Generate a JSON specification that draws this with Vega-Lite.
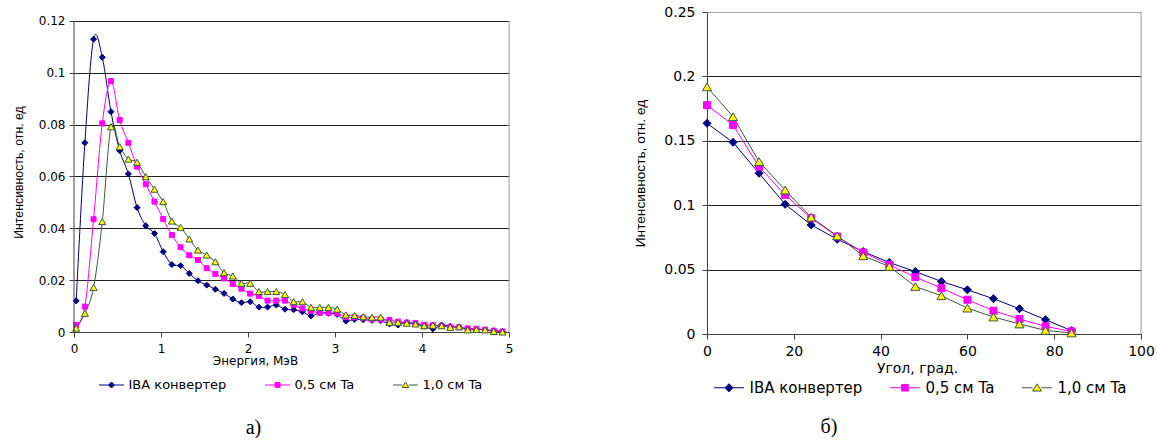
{
  "$schema": "https://vega.github.io/schema/vega-lite/v6.json",
  "background": "white",
  "padding": {"left": 12, "top": 5, "right": 0, "bottom": 0},
  "bounds": "flush",
  "spacing": 198,
  "config": {
    "view": {"stroke": null},
    "font": "DejaVu Sans",
    "axis": {"labelColor": "black", "titleColor": "black", "titleFontWeight": "normal", "labelFlush": false, "tickColor": "#404040", "domainColor": "#404040", "tickSize": 5, "labelOverlap": false}
  },
  "datasets": {
    "energy": [
      {"s":"IBA конвертер","x":0.025,"y":0.012},{"s":"IBA конвертер","x":0.125,"y":0.073},{"s":"IBA конвертер","x":0.225,"y":0.113},{"s":"IBA конвертер","x":0.325,"y":0.106},{"s":"IBA конвертер","x":0.425,"y":0.085},
      {"s":"IBA конвертер","x":0.525,"y":0.070},{"s":"IBA конвертер","x":0.625,"y":0.061},{"s":"IBA конвертер","x":0.725,"y":0.048},{"s":"IBA конвертер","x":0.825,"y":0.041},{"s":"IBA конвертер","x":0.925,"y":0.038},
      {"s":"IBA конвертер","x":1.025,"y":0.031},{"s":"IBA конвертер","x":1.125,"y":0.026},{"s":"IBA конвертер","x":1.225,"y":0.0256},{"s":"IBA конвертер","x":1.325,"y":0.0226},{"s":"IBA конвертер","x":1.425,"y":0.0198},
      {"s":"IBA конвертер","x":1.525,"y":0.0181},{"s":"IBA конвертер","x":1.625,"y":0.0165},{"s":"IBA конвертер","x":1.725,"y":0.0149},{"s":"IBA конвертер","x":1.825,"y":0.0127},{"s":"IBA конвертер","x":1.925,"y":0.0113},
      {"s":"IBA конвертер","x":2.025,"y":0.0117},{"s":"IBA конвертер","x":2.125,"y":0.0096},{"s":"IBA конвертер","x":2.225,"y":0.0096},{"s":"IBA конвертер","x":2.325,"y":0.0104},{"s":"IBA конвертер","x":2.425,"y":0.0088},
      {"s":"IBA конвертер","x":2.525,"y":0.0086},{"s":"IBA конвертер","x":2.625,"y":0.0078},{"s":"IBA конвертер","x":2.725,"y":0.0062},{"s":"IBA конвертер","x":2.825,"y":0.0075},{"s":"IBA конвертер","x":2.925,"y":0.0072},
      {"s":"IBA конвертер","x":3.025,"y":0.0068},{"s":"IBA конвертер","x":3.125,"y":0.0042},{"s":"IBA конвертер","x":3.225,"y":0.0049},{"s":"IBA конвертер","x":3.325,"y":0.0047},{"s":"IBA конвертер","x":3.425,"y":0.0045},
      {"s":"IBA конвертер","x":3.525,"y":0.0044},{"s":"IBA конвертер","x":3.625,"y":0.0031},{"s":"IBA конвертер","x":3.725,"y":0.0027},{"s":"IBA конвертер","x":3.825,"y":0.0037},{"s":"IBA конвертер","x":3.925,"y":0.0031},
      {"s":"IBA конвертер","x":4.025,"y":0.0022},{"s":"IBA конвертер","x":4.125,"y":0.0012},{"s":"IBA конвертер","x":4.225,"y":0.0027},{"s":"IBA конвертер","x":4.325,"y":0.0022},{"s":"IBA конвертер","x":4.425,"y":0.0019},
      {"s":"IBA конвертер","x":4.525,"y":0.0012},{"s":"IBA конвертер","x":4.625,"y":0.0011},{"s":"IBA конвертер","x":4.725,"y":0.0008},{"s":"IBA конвертер","x":4.825,"y":0.0005},{"s":"IBA конвертер","x":4.925,"y":0.0002},
      {"s":"0,5 см Ta","x":0.025,"y":0.0027},{"s":"0,5 см Ta","x":0.125,"y":0.0098},{"s":"0,5 см Ta","x":0.225,"y":0.0435},{"s":"0,5 см Ta","x":0.325,"y":0.0805},{"s":"0,5 см Ta","x":0.425,"y":0.0968},
      {"s":"0,5 см Ta","x":0.525,"y":0.0818},{"s":"0,5 см Ta","x":0.625,"y":0.0730},{"s":"0,5 см Ta","x":0.725,"y":0.0638},{"s":"0,5 см Ta","x":0.825,"y":0.0570},{"s":"0,5 см Ta","x":0.925,"y":0.0503},
      {"s":"0,5 см Ta","x":1.025,"y":0.0436},{"s":"0,5 см Ta","x":1.125,"y":0.0374},{"s":"0,5 см Ta","x":1.225,"y":0.0327},{"s":"0,5 см Ta","x":1.325,"y":0.0296},{"s":"0,5 см Ta","x":1.425,"y":0.0278},
      {"s":"0,5 см Ta","x":1.525,"y":0.0246},{"s":"0,5 см Ta","x":1.625,"y":0.0224},{"s":"0,5 см Ta","x":1.725,"y":0.0207},{"s":"0,5 см Ta","x":1.825,"y":0.0185},{"s":"0,5 см Ta","x":1.925,"y":0.0167},
      {"s":"0,5 см Ta","x":2.025,"y":0.0148},{"s":"0,5 см Ta","x":2.125,"y":0.0139},{"s":"0,5 см Ta","x":2.225,"y":0.0121},{"s":"0,5 см Ta","x":2.325,"y":0.0121},{"s":"0,5 см Ta","x":2.425,"y":0.0121},
      {"s":"0,5 см Ta","x":2.525,"y":0.0104},{"s":"0,5 см Ta","x":2.625,"y":0.0091},{"s":"0,5 см Ta","x":2.725,"y":0.0081},{"s":"0,5 см Ta","x":2.825,"y":0.0074},{"s":"0,5 см Ta","x":2.925,"y":0.0074},
      {"s":"0,5 см Ta","x":3.025,"y":0.0072},{"s":"0,5 см Ta","x":3.125,"y":0.0057},{"s":"0,5 см Ta","x":3.225,"y":0.0057},{"s":"0,5 см Ta","x":3.325,"y":0.0055},{"s":"0,5 см Ta","x":3.425,"y":0.0049},
      {"s":"0,5 см Ta","x":3.525,"y":0.0048},{"s":"0,5 см Ta","x":3.625,"y":0.0046},{"s":"0,5 см Ta","x":3.725,"y":0.0040},{"s":"0,5 см Ta","x":3.825,"y":0.0036},{"s":"0,5 см Ta","x":3.925,"y":0.0034},
      {"s":"0,5 см Ta","x":4.025,"y":0.0028},{"s":"0,5 см Ta","x":4.125,"y":0.0026},{"s":"0,5 см Ta","x":4.225,"y":0.0024},{"s":"0,5 см Ta","x":4.325,"y":0.0020},{"s":"0,5 см Ta","x":4.425,"y":0.0018},
      {"s":"0,5 см Ta","x":4.525,"y":0.0014},{"s":"0,5 см Ta","x":4.625,"y":0.0012},{"s":"0,5 см Ta","x":4.725,"y":0.0009},{"s":"0,5 см Ta","x":4.825,"y":0.0005},{"s":"0,5 см Ta","x":4.925,"y":0.0002},
      {"s":"1,0 см Ta","x":0.025,"y":0.0015},{"s":"1,0 см Ta","x":0.125,"y":0.0072},{"s":"1,0 см Ta","x":0.225,"y":0.0172},{"s":"1,0 см Ta","x":0.325,"y":0.0426},{"s":"1,0 см Ta","x":0.425,"y":0.0792},
      {"s":"1,0 см Ta","x":0.525,"y":0.0715},{"s":"1,0 см Ta","x":0.625,"y":0.0667},{"s":"1,0 см Ta","x":0.725,"y":0.0655},{"s":"1,0 см Ta","x":0.825,"y":0.0599},{"s":"1,0 см Ta","x":0.925,"y":0.0551},
      {"s":"1,0 см Ta","x":1.025,"y":0.0503},{"s":"1,0 см Ta","x":1.125,"y":0.0428},{"s":"1,0 см Ta","x":1.225,"y":0.0404},{"s":"1,0 см Ta","x":1.325,"y":0.0359},{"s":"1,0 см Ta","x":1.425,"y":0.0316},
      {"s":"1,0 см Ta","x":1.525,"y":0.0297},{"s":"1,0 см Ta","x":1.625,"y":0.0271},{"s":"1,0 см Ta","x":1.725,"y":0.0229},{"s":"1,0 см Ta","x":1.825,"y":0.0216},{"s":"1,0 см Ta","x":1.925,"y":0.0188},
      {"s":"1,0 см Ta","x":2.025,"y":0.0188},{"s":"1,0 см Ta","x":2.125,"y":0.0156},{"s":"1,0 см Ta","x":2.225,"y":0.0156},{"s":"1,0 см Ta","x":2.325,"y":0.0156},{"s":"1,0 см Ta","x":2.425,"y":0.0145},
      {"s":"1,0 см Ta","x":2.525,"y":0.0117},{"s":"1,0 см Ta","x":2.625,"y":0.0117},{"s":"1,0 см Ta","x":2.725,"y":0.0095},{"s":"1,0 см Ta","x":2.825,"y":0.0095},{"s":"1,0 см Ta","x":2.925,"y":0.0095},
      {"s":"1,0 см Ta","x":3.025,"y":0.0088},{"s":"1,0 см Ta","x":3.125,"y":0.0066},{"s":"1,0 см Ta","x":3.225,"y":0.0064},{"s":"1,0 см Ta","x":3.325,"y":0.0059},{"s":"1,0 см Ta","x":3.425,"y":0.0057},
      {"s":"1,0 см Ta","x":3.525,"y":0.0057},{"s":"1,0 см Ta","x":3.625,"y":0.0037},{"s":"1,0 см Ta","x":3.725,"y":0.0037},{"s":"1,0 см Ta","x":3.825,"y":0.0034},{"s":"1,0 см Ta","x":3.925,"y":0.0031},
      {"s":"1,0 см Ta","x":4.025,"y":0.0024},{"s":"1,0 см Ta","x":4.125,"y":0.0026},{"s":"1,0 см Ta","x":4.225,"y":0.0024},{"s":"1,0 см Ta","x":4.325,"y":0.0018},{"s":"1,0 см Ta","x":4.425,"y":0.0020},
      {"s":"1,0 см Ta","x":4.525,"y":0.0008},{"s":"1,0 см Ta","x":4.625,"y":0.0010},{"s":"1,0 см Ta","x":4.725,"y":0.0008},{"s":"1,0 см Ta","x":4.825,"y":0.0002},{"s":"1,0 см Ta","x":4.925,"y":0.0000}
    ],
    "angle": [
      {"s":"IBA конвертер","x":0,"y":0.1636},{"s":"IBA конвертер","x":6,"y":0.1488},{"s":"IBA конвертер","x":12,"y":0.1248},{"s":"IBA конвертер","x":18,"y":0.1007},{"s":"IBA конвертер","x":24,"y":0.0847},
      {"s":"IBA конвертер","x":30,"y":0.0736},{"s":"IBA конвертер","x":36,"y":0.0640},{"s":"IBA конвертер","x":42,"y":0.0555},{"s":"IBA конвертер","x":48,"y":0.0485},{"s":"IBA конвертер","x":54,"y":0.0408},
      {"s":"IBA конвертер","x":60,"y":0.0343},{"s":"IBA конвертер","x":66,"y":0.0274},{"s":"IBA конвертер","x":72,"y":0.0196},{"s":"IBA конвертер","x":78,"y":0.0111},{"s":"IBA конвертер","x":84,"y":0.0026},
      {"s":"0,5 см Ta","x":0,"y":0.1777},{"s":"0,5 см Ta","x":6,"y":0.1622},{"s":"0,5 см Ta","x":12,"y":0.1299},{"s":"0,5 см Ta","x":18,"y":0.1080},{"s":"0,5 см Ta","x":24,"y":0.0899},
      {"s":"0,5 см Ta","x":30,"y":0.0757},{"s":"0,5 см Ta","x":36,"y":0.0633},{"s":"0,5 см Ta","x":42,"y":0.0537},{"s":"0,5 см Ta","x":48,"y":0.0442},{"s":"0,5 см Ta","x":54,"y":0.0356},
      {"s":"0,5 см Ta","x":60,"y":0.0266},{"s":"0,5 см Ta","x":66,"y":0.0181},{"s":"0,5 см Ta","x":72,"y":0.0116},{"s":"0,5 см Ta","x":78,"y":0.0059},{"s":"0,5 см Ta","x":84,"y":0.0020},
      {"s":"1,0 см Ta","x":0,"y":0.1919},{"s":"1,0 см Ta","x":6,"y":0.1687},{"s":"1,0 см Ta","x":12,"y":0.1338},{"s":"1,0 см Ta","x":18,"y":0.1118},{"s":"1,0 см Ta","x":24,"y":0.0907},
      {"s":"1,0 см Ta","x":30,"y":0.0762},{"s":"1,0 см Ta","x":36,"y":0.0607},{"s":"1,0 см Ta","x":42,"y":0.0524},{"s":"1,0 см Ta","x":48,"y":0.0369},{"s":"1,0 см Ta","x":54,"y":0.0297},
      {"s":"1,0 см Ta","x":60,"y":0.0201},{"s":"1,0 см Ta","x":66,"y":0.0132},{"s":"1,0 см Ta","x":72,"y":0.0078},{"s":"1,0 см Ta","x":78,"y":0.0028},{"s":"1,0 см Ta","x":84,"y":0.0008}
    ]
  },
  "resolve": {
    "scale": {"fill": "independent", "stroke": "independent", "shape": "independent"},
    "legend": {"fill": "independent", "stroke": "independent", "shape": "independent"}
  },
  "hconcat": [
    {
      "width": 435,
      "height": 320,
      "data": {"name": "energy"},
      "title": {"text": "а)", "orient": "bottom", "anchor": "middle", "frame": "group", "dx": -38, "offset": 26, "font": "Liberation Serif", "fontSize": 20, "fontWeight": "normal", "color": "black"},
      "layer": [
        {
          "transform": [{"filter": {"field": "s", "equal": "IBA конвертер"}}],
          "mark": {"type": "line", "interpolate": "cardinal", "strokeWidth": 1, "color": "#000080"},
          "encoding": {
            "x": {"field": "x", "type": "quantitative", "scale": {"domain": [0, 5], "nice": false, "zero": false},
                  "axis": {"values": [0, 1, 2, 3, 4, 5], "labelExpr": "'' + datum.value", "title": "Энергия, МэВ", "grid": false, "labelFont": "DejaVu Sans", "labelFontSize": 12, "labelPadding": 6, "titleFont": "DejaVu Sans", "titleFontSize": 12, "titlePadding": 1, "titleX": 181}},
            "y": {"field": "y", "type": "quantitative", "scale": {"domain": [0, 0.12347], "nice": false, "zero": false},
                  "axis": {"values": [0, 0.02, 0.04, 0.06, 0.08, 0.1, 0.12], "labelExpr": "'' + datum.value", "title": "Интенсивность, отн. ед", "domain": false, "grid": true, "gridColor": "#222222", "gridWidth": 1, "labelFont": "DejaVu Sans", "labelFontSize": 12, "labelPadding": 4, "titleFont": "Liberation Sans", "titleFontSize": 12.3, "titlePadding": 13}}
          }
        },
        {
          "transform": [{"filter": {"field": "s", "equal": "0,5 см Ta"}}],
          "mark": {"type": "line", "interpolate": "cardinal", "strokeWidth": 1, "color": "#ff00ff"},
          "encoding": {"x": {"field": "x", "type": "quantitative"}, "y": {"field": "y", "type": "quantitative"}}
        },
        {
          "transform": [{"filter": {"field": "s", "equal": "1,0 см Ta"}}],
          "mark": {"type": "line", "interpolate": "cardinal", "strokeWidth": 1, "color": "#3c5a3c"},
          "encoding": {"x": {"field": "x", "type": "quantitative"}, "y": {"field": "y", "type": "quantitative"}}
        },
        {
          "transform": [{"filter": {"field": "s", "equal": "IBA конвертер"}}],
          "mark": {"type": "point", "shape": "diamond", "size": 36, "filled": true, "fill": "#000080", "stroke": "#000080", "strokeWidth": 1, "opacity": 1},
          "encoding": {"x": {"field": "x", "type": "quantitative"}, "y": {"field": "y", "type": "quantitative"}}
        },
        {
          "transform": [{"filter": {"field": "s", "equal": "0,5 см Ta"}}],
          "mark": {"type": "point", "shape": "square", "size": 25, "filled": true, "fill": "#ff00ff", "stroke": "#ff00ff", "strokeWidth": 1, "opacity": 1},
          "encoding": {"x": {"field": "x", "type": "quantitative"}, "y": {"field": "y", "type": "quantitative"}}
        },
        {
          "transform": [{"filter": {"field": "s", "equal": "1,0 см Ta"}}],
          "mark": {"type": "point", "shape": "triangle-up", "size": 49, "filled": true, "fill": "#ffff00", "stroke": "#3c5a3c", "strokeWidth": 1, "opacity": 1},
          "encoding": {"x": {"field": "x", "type": "quantitative"}, "y": {"field": "y", "type": "quantitative"}}
        },
        {
          "mark": {"type": "point", "filled": true, "opacity": 0, "strokeWidth": 1},
          "encoding": {
            "x": {"field": "x", "type": "quantitative"},
            "y": {"field": "y", "type": "quantitative"},
            "fill": {"field": "s", "type": "nominal", "scale": {"domain": ["IBA конвертер", "0,5 см Ta", "1,0 см Ta"], "range": ["#000080", "#ff00ff", "#ffff00"]},
              "legend": {"orient": "none", "legendX": 24.5, "legendY": 360, "direction": "horizontal", "title": null, "labelFont": "DejaVu Sans", "labelFontSize": 13, "labelColor": "black", "labelOffset": 4, "columnPadding": 36, "symbolSize": 625, "symbolStrokeWidth": 1, "symbolOpacity": 1, "padding": 0}},
            "stroke": {"field": "s", "type": "nominal", "scale": {"domain": ["IBA конвертер", "0,5 см Ta", "1,0 см Ta"], "range": ["#000080", "#ff00ff", "#3c5a3c"]},
              "legend": {"orient": "none", "legendX": 24.5, "legendY": 360, "direction": "horizontal", "title": null, "labelFont": "DejaVu Sans", "labelFontSize": 13, "labelColor": "black", "labelOffset": 4, "columnPadding": 36, "symbolSize": 625, "symbolStrokeWidth": 1, "symbolOpacity": 1, "padding": 0}},
            "shape": {"field": "s", "type": "nominal", "scale": {"domain": ["IBA конвертер", "0,5 см Ta", "1,0 см Ta"], "range": ["M-1,0H-0.24M0.24,0H1M0,-0.24L0.24,0L0,0.24L-0.24,0Z", "M-1,0H-0.2M0.2,0H1M-0.2,-0.2H0.2V0.2H-0.2Z", "M-1,0H-0.26M0.26,0H1M0,-0.24L0.26,0.2H-0.26Z"]},
              "legend": {"orient": "none", "legendX": 24.5, "legendY": 360, "direction": "horizontal", "title": null, "labelFont": "DejaVu Sans", "labelFontSize": 13, "labelColor": "black", "labelOffset": 4, "columnPadding": 36, "symbolSize": 625, "symbolStrokeWidth": 1, "symbolOpacity": 1, "padding": 0}}
          }
        },
        {
          "data": {"values": [{}]},
          "mark": {"type": "rule", "color": "#404040", "strokeWidth": 1},
          "encoding": {"x": {"datum": 0, "type": "quantitative"}, "y": {"datum": 0, "type": "quantitative"}, "y2": {"datum": 0.12}}
        },
        {
          "data": {"values": [{}]},
          "mark": {"type": "rule", "color": "#9a9a9a", "strokeWidth": 1},
          "encoding": {"x": {"datum": 5, "type": "quantitative"}, "y": {"datum": 0, "type": "quantitative"}, "y2": {"datum": 0.12}}
        }
      ]
    },
    {
      "width": 434,
      "height": 322,
      "data": {"name": "angle"},
      "title": {"text": "б)", "orient": "bottom", "anchor": "middle", "frame": "group", "dx": -95, "offset": 21, "font": "Liberation Serif", "fontSize": 20, "fontWeight": "normal", "color": "black"},
      "layer": [
        {
          "transform": [{"filter": {"field": "s", "equal": "IBA конвертер"}}],
          "mark": {"type": "line", "strokeWidth": 1, "color": "#000080"},
          "encoding": {
            "x": {"field": "x", "type": "quantitative", "scale": {"domain": [0, 100], "nice": false, "zero": false},
                  "axis": {"values": [0, 20, 40, 60, 80, 100], "labelExpr": "'' + datum.value", "title": "Угол, град.", "grid": false, "labelFont": "DejaVu Sans", "labelFontSize": 14, "labelPadding": 5, "titleFont": "DejaVu Sans", "titleFontSize": 14, "titlePadding": 3, "titleX": 210}},
            "y": {"field": "y", "type": "quantitative", "scale": {"domain": [0, 0.25], "nice": false, "zero": false},
                  "axis": {"values": [0, 0.05, 0.1, 0.15, 0.2, 0.25], "labelExpr": "'' + datum.value", "title": "Интенсивность, отн. ед", "domain": true, "grid": true,
                           "gridColor": {"condition": {"test": "datum.value > 0.24", "value": "#a8a8a8"}, "value": "#222222"}, "gridWidth": 1,
                           "labelFont": "DejaVu Sans", "labelFontSize": 14, "labelPadding": 7, "titleFont": "Liberation Sans", "titleFontSize": 13.7, "titlePadding": 16}}
          }
        },
        {
          "transform": [{"filter": {"field": "s", "equal": "0,5 см Ta"}}],
          "mark": {"type": "line", "strokeWidth": 1, "color": "#ff00ff"},
          "encoding": {"x": {"field": "x", "type": "quantitative"}, "y": {"field": "y", "type": "quantitative"}}
        },
        {
          "transform": [{"filter": {"field": "s", "equal": "1,0 см Ta"}}],
          "mark": {"type": "line", "strokeWidth": 1, "color": "#3c5a3c"},
          "encoding": {"x": {"field": "x", "type": "quantitative"}, "y": {"field": "y", "type": "quantitative"}}
        },
        {
          "transform": [{"filter": {"field": "s", "equal": "IBA конвертер"}}],
          "mark": {"type": "point", "shape": "diamond", "size": 64, "filled": true, "fill": "#000080", "stroke": "#000080", "strokeWidth": 1, "opacity": 1},
          "encoding": {"x": {"field": "x", "type": "quantitative"}, "y": {"field": "y", "type": "quantitative"}}
        },
        {
          "transform": [{"filter": {"field": "s", "equal": "0,5 см Ta"}}],
          "mark": {"type": "point", "shape": "square", "size": 49, "filled": true, "fill": "#ff00ff", "stroke": "#ff00ff", "strokeWidth": 1, "opacity": 1},
          "encoding": {"x": {"field": "x", "type": "quantitative"}, "y": {"field": "y", "type": "quantitative"}}
        },
        {
          "transform": [{"filter": {"field": "s", "equal": "1,0 см Ta"}}],
          "mark": {"type": "point", "shape": "triangle-up", "size": 81, "filled": true, "fill": "#ffff00", "stroke": "#3c5a3c", "strokeWidth": 1, "opacity": 1},
          "encoding": {"x": {"field": "x", "type": "quantitative"}, "y": {"field": "y", "type": "quantitative"}}
        },
        {
          "mark": {"type": "point", "filled": true, "opacity": 0, "strokeWidth": 1},
          "encoding": {
            "x": {"field": "x", "type": "quantitative"},
            "y": {"field": "y", "type": "quantitative"},
            "fill": {"field": "s", "type": "nominal", "scale": {"domain": ["IBA конвертер", "0,5 см Ta", "1,0 см Ta"], "range": ["#000080", "#ff00ff", "#ffff00"]},
              "legend": {"orient": "none", "legendX": 6.5, "legendY": 360, "direction": "horizontal", "title": null, "labelFont": "DejaVu Sans", "labelFontSize": 15, "labelColor": "black", "labelOffset": 5, "columnPadding": 25, "symbolSize": 900, "symbolStrokeWidth": 1, "symbolOpacity": 1, "padding": 0}},
            "stroke": {"field": "s", "type": "nominal", "scale": {"domain": ["IBA конвертер", "0,5 см Ta", "1,0 см Ta"], "range": ["#000080", "#ff00ff", "#3c5a3c"]},
              "legend": {"orient": "none", "legendX": 6.5, "legendY": 360, "direction": "horizontal", "title": null, "labelFont": "DejaVu Sans", "labelFontSize": 15, "labelColor": "black", "labelOffset": 5, "columnPadding": 25, "symbolSize": 900, "symbolStrokeWidth": 1, "symbolOpacity": 1, "padding": 0}},
            "shape": {"field": "s", "type": "nominal", "scale": {"domain": ["IBA конвертер", "0,5 см Ta", "1,0 см Ta"], "range": ["M-1,0H-0.27M0.27,0H1M0,-0.27L0.27,0L0,0.27L-0.27,0Z", "M-1,0H-0.22M0.22,0H1M-0.22,-0.22H0.22V0.22H-0.22Z", "M-1,0H-0.3M0.3,0H1M0,-0.26L0.3,0.22H-0.3Z"]},
              "legend": {"orient": "none", "legendX": 6.5, "legendY": 360, "direction": "horizontal", "title": null, "labelFont": "DejaVu Sans", "labelFontSize": 15, "labelColor": "black", "labelOffset": 5, "columnPadding": 25, "symbolSize": 900, "symbolStrokeWidth": 1, "symbolOpacity": 1, "padding": 0}}
          }
        },
        {
          "data": {"values": [{}]},
          "mark": {"type": "rule", "color": "#9a9a9a", "strokeWidth": 1},
          "encoding": {"x": {"datum": 100, "type": "quantitative"}, "y": {"datum": 0, "type": "quantitative"}, "y2": {"datum": 0.25}}
        }
      ]
    }
  ]
}
